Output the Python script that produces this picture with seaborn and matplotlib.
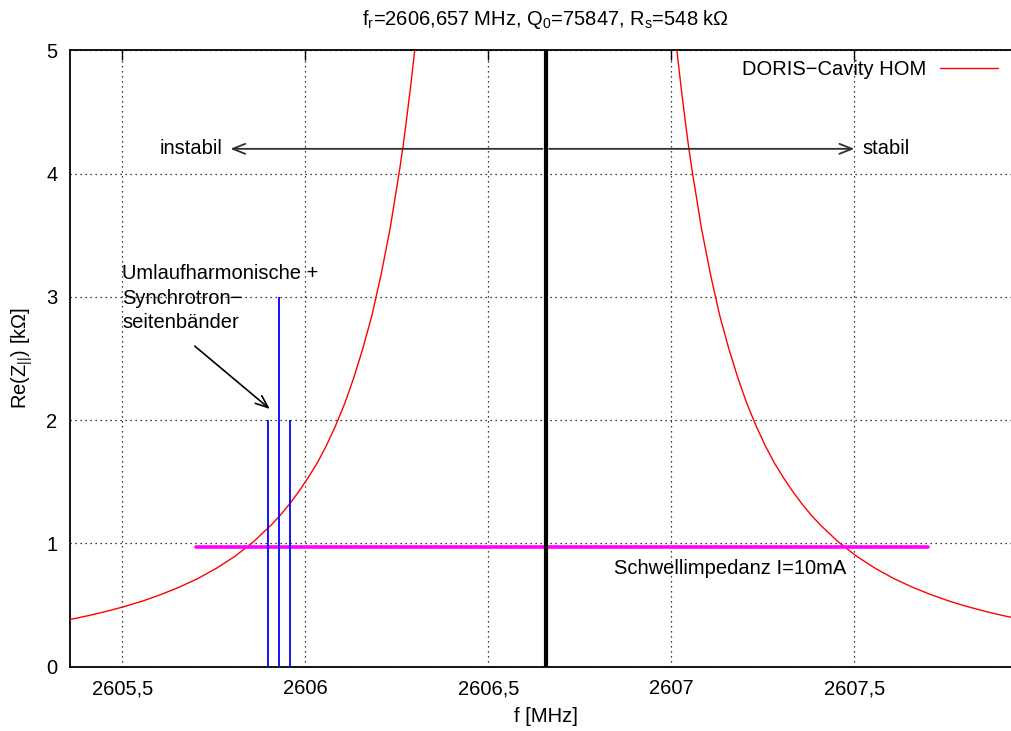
import numpy as np
import pandas as pd
import matplotlib
matplotlib.use("Agg")
import matplotlib.pyplot as plt
import seaborn as sns

# ---------------- data ----------------
f_res = 2606.657  # MHz, resonance (thick black line)
# resonance curve: offset from f_res (MHz) and Re(Z) (kOhm) (symmetric branches)
res_offset_mhz = [0.34, 0.35, 0.36, 0.37, 0.38, 0.39, 0.40, 0.425, 0.45, 0.475, 0.50, 0.525,
                  0.55, 0.575, 0.60, 0.625, 0.65, 0.675, 0.70, 0.725, 0.75, 0.775, 0.80,
                  0.85, 0.90, 0.95, 1.00, 1.05, 1.10, 1.15, 1.20, 1.25, 1.30, 1.31]
res_re_kohm = [5.54, 5.23, 4.95, 4.69, 4.45, 4.22, 4.02, 3.56, 3.18, 2.85, 2.58, 2.34,
               2.13, 1.95, 1.79, 1.65, 1.53, 1.42, 1.32, 1.23, 1.15, 1.08, 1.01,
               0.894, 0.798, 0.716, 0.647, 0.587, 0.534, 0.489, 0.449, 0.414, 0.383, 0.377]

# revolution harmonic + synchrotron sidebands
line_f = [2605.898, 2605.928, 2605.958]
line_h = [2.0, 3.0, 2.0]

# threshold impedance
thr_f = [2605.70, 2607.70]
thr_z = [0.973, 0.973]

xticks = [2605.5, 2606.0, 2606.5, 2607.0, 2607.5]
xticklabels = ["2605,5", "2606", "2606,5", "2607", "2607,5"]
yticks = [0, 1, 2, 3, 4, 5]

# ---------------- style ----------------
sns.set_theme(style="white")
plt.rcParams["font.family"] = ["Liberation Sans", "DejaVu Sans"]
plt.rcParams["mathtext.fontset"] = "custom"
plt.rcParams["mathtext.rm"] = "Liberation Sans"
plt.rcParams["mathtext.it"] = "Liberation Sans"
plt.rcParams["mathtext.bf"] = "Liberation Sans"
plt.rcParams["text.color"] = "black"
plt.rcParams["axes.labelcolor"] = "black"
plt.rcParams["xtick.color"] = "black"
plt.rcParams["ytick.color"] = "black"
FS = 14.5

fig = plt.figure(figsize=(10.12, 7.31), dpi=100)
W, H = 1012.0, 731.0
ax = fig.add_axes([70 / W, (H - 666.7) / H, 951.6 / W, 616.5 / H])

left = pd.DataFrame({"f": [f_res - d for d in res_offset_mhz], "z": res_re_kohm})
right = pd.DataFrame({"f": [f_res + d for d in res_offset_mhz], "z": res_re_kohm})
sns.lineplot(data=left, x="f", y="z", ax=ax, color="red", lw=1.0, sort=False,
             label="DORIS\u2212Cavity HOM", zorder=3)
sns.lineplot(data=right, x="f", y="z", ax=ax, color="red", lw=1.0, sort=False, zorder=3)

# threshold line
sns.lineplot(x=thr_f, y=thr_z, ax=ax, color="#ff00ff", lw=2.6, zorder=4)

# harmonic lines
ax.vlines(line_f, 0, line_h, colors="#0000ff", lw=1.3, zorder=4)

# resonance line
ax.axvline(f_res, color="black", lw=3.0, zorder=5)

ax.set_xlim(2605.357, 2607.957)
ax.set_ylim(0, 5)
ax.set_xticks(xticks)
ax.set_xticklabels(xticklabels)
ax.set_yticks(yticks)
ax.tick_params(direction="in", top=True, right=True, length=7, width=1.0,
               labelsize=FS, colors="black", pad=9)
ax.grid(True, linestyle=(0, (1, 3)), color="black", lw=0.9)
ax.set_axisbelow(True)
for s in ax.spines.values():
    s.set_color("black")
    s.set_linewidth(1.3)

ax.set_xlabel("f [MHz]", fontsize=FS, labelpad=6)
ax.set_ylabel(r"Re(Z$_{||}$) [k$\Omega$]", fontsize=FS, labelpad=8)
ax.set_title(r"f$_r$=2606,657 MHz, Q$_0$=75847, R$_s$=548 k$\Omega$", fontsize=FS, pad=18)

# stability arrows
arrow_kw = dict(arrowstyle="->,head_length=0.45,head_width=0.18", color="#303030",
                lw=1.3, shrinkA=0, shrinkB=0, mutation_scale=20)
ax.annotate("", xy=(2605.795, 4.2), xytext=(f_res - 0.009, 4.2), arrowprops=arrow_kw, zorder=6)
ax.annotate("", xy=(2607.50, 4.2), xytext=(f_res + 0.009, 4.2), arrowprops=arrow_kw, zorder=6)
ax.text(2605.775, 4.2, "instabil", ha="right", va="center", fontsize=FS)
ax.text(2607.522, 4.2, "stabil", ha="left", va="center", fontsize=FS)

# sideband annotation
ax.text(2605.5, 2.99, "Umlaufharmonische +\nSynchrotron\u2212\nseitenb\u00e4nder",
        ha="left", va="center", fontsize=FS, linespacing=1.36)
ax.annotate("", xy=(2605.903, 2.09), xytext=(2605.698, 2.60),
            arrowprops=dict(arrowstyle="->,head_length=0.45,head_width=0.18", color="black",
                            lw=1.2, shrinkA=0, shrinkB=0, mutation_scale=20))

ax.text(2607.16, 0.80, "Schwellimpedanz I=10mA", ha="center", va="center", fontsize=FS)

leg = ax.legend(loc="upper right", bbox_to_anchor=(998 / W, 1 - 60 / H),
                bbox_transform=fig.transFigure, frameon=False, markerfirst=False,
                fontsize=FS, handlelength=2.9, handletextpad=0.65, borderpad=0,
                borderaxespad=0)

fig.savefig("out.png", dpi=100)
